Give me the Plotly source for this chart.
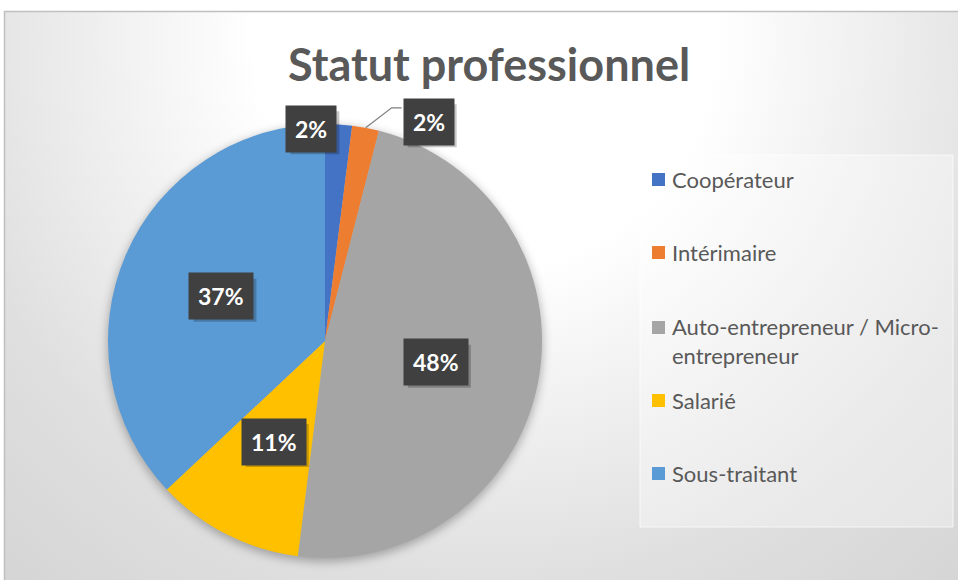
import base64
import math
import plotly.graph_objects as go

# ---- data ----
categories = ["Coopérateur", "Intérimaire", "Auto-entrepreneur / Micro-entrepreneur", "Salarié", "Sous-traitant"]
legend_labels = ["Coopérateur", "Intérimaire", "Auto-entrepreneur / Micro-<br>entrepreneur", "Salarié", "Sous-traitant"]
shares = [2, 2, 48, 11, 37]
colors = ["#4472C4", "#ED7D31", "#A5A5A5", "#FFC000", "#5B9BD5"]
title_text = "Statut professionnel"

# ---- geometry (pixels) ----
W, H = 958, 580
PIE_CX, PIE_CY, PIE_R = 325, 341, 217


def px(x):
    return x / W


def py(y):
    return 1 - y / H


# background: framed panel with a soft radial gradient and a shadow under the pie
svg = f"""<svg xmlns='http://www.w3.org/2000/svg' width='{W}' height='{H}' viewBox='0 0 {W} {H}' preserveAspectRatio='none'>
<defs>
<radialGradient id='bg' cx='485' cy='40' r='760' gradientUnits='userSpaceOnUse'>
<stop offset='0' stop-color='#ffffff'/>
<stop offset='0.30' stop-color='#ffffff'/>
<stop offset='0.63' stop-color='#e6e6e6'/>
<stop offset='0.72' stop-color='#dfdfdf'/>
<stop offset='1' stop-color='#d3d3d3'/>
</radialGradient>
<filter id='blur' x='-20%' y='-20%' width='140%' height='140%'><feGaussianBlur stdDeviation='5'/></filter>
</defs>
<rect x='0' y='0' width='{W}' height='{H}' fill='#ffffff'/>
<rect x='4.5' y='11.5' width='{W + 10}' height='{H + 10}' fill='url(#bg)' stroke='#bfbfbf' stroke-width='1.5'/>
<circle cx='{PIE_CX}' cy='{PIE_CY + 3}' r='{PIE_R + 1}' fill='#000000' fill-opacity='0.28' filter='url(#blur)'/>
</svg>"""
bg_uri = "data:image/svg+xml;base64," + base64.b64encode(svg.encode("utf-8")).decode("ascii")

fig = go.Figure()
fig.add_trace(go.Pie(
    labels=categories,
    values=shares,
    marker=dict(colors=colors, line=dict(width=0)),
    sort=False,
    direction="clockwise",
    rotation=0,
    textinfo="none",
    hoverinfo="label+percent",
    showlegend=False,
    domain=dict(
        x=[px(PIE_CX - PIE_R), px(PIE_CX + PIE_R)],
        y=[py(PIE_CY + PIE_R), py(PIE_CY - PIE_R)],
    ),
))

shapes = []
annotations = []

# data labels placed along each slice's mid-angle
total = sum(shares)
label_radius = [0.98, None, 0.52, 0.52, 0.52]
label_nudge = [(-27, 0), (0, 0), (0, 0), (0, 0), (0, 0)]
BOX_H = 41
cum = 0.0
for i, v in enumerate(shares):
    mid = math.radians((cum + v / 2) / total * 360)
    cum += v
    pct = f"{round(v / total * 100)}%"
    if label_radius[i] is None:
        # outside label with a leader line from the slice edge
        ex = PIE_CX + PIE_R * math.sin(mid)
        ey = PIE_CY - PIE_R * math.cos(mid)
        lx, ly = ex + 63, ey - 6
        shapes.append(dict(
            type="path", xref="paper", yref="paper",
            path=f"M {px(ex)} {py(ey)} L {px(lx - 37)} {py(ly - 14)} L {px(lx - 27)} {py(ly - 14)}",
            line=dict(color="#7f7f7f", width=1.2),
        ))
    else:
        f = label_radius[i]
        lx = PIE_CX + f * PIE_R * math.sin(mid) + label_nudge[i][0]
        ly = PIE_CY - f * PIE_R * math.cos(mid) + label_nudge[i][1]
    # soft drop shadow behind the label box
    bw = 14 * len(pct) + 20
    shapes.append(dict(
        type="rect", xref="paper", yref="paper",
        x0=px(lx - bw / 2 + 3), x1=px(lx + bw / 2 + 4),
        y0=py(ly + BOX_H / 2 + 5), y1=py(ly - BOX_H / 2 + 3),
        fillcolor="rgba(0,0,0,0.22)", line=dict(width=0),
    ))
    annotations.append(dict(
        x=px(lx), y=py(ly), xref="paper", yref="paper", showarrow=False,
        xanchor="center", yanchor="middle",
        text=f"<b>{pct}</b>", font=dict(family="Lato", size=23, color="#ffffff"),
        bgcolor="#404040", borderpad=9,
    ))

# legend panel
shapes.append(dict(
    type="rect", xref="paper", yref="paper", layer="below",
    x0=px(640), x1=px(953), y0=py(527), y1=py(155),
    fillcolor="rgba(255,255,255,0.35)", line=dict(color="rgba(255,255,255,0.7)", width=1),
))
LEG_FONT = 22
legend_y = [179, 252, 327, 400, 473]
for name, col, yy in zip(legend_labels, colors, legend_y):
    shapes.append(dict(
        type="rect", xref="paper", yref="paper",
        x0=px(652), x1=px(665), y0=py(yy + 7), y1=py(yy - 6),
        fillcolor=col, line=dict(width=0),
    ))
    n_lines = name.count("<br>") + 1
    cy = yy + (n_lines - 1) * 14
    annotations.append(dict(
        x=px(670), y=py(cy), xref="paper", yref="paper", showarrow=False,
        xanchor="left", yanchor="middle", align="left",
        text=name, font=dict(family="Lato", size=LEG_FONT, color="#595959"),
    ))

# title
annotations.append(dict(
    x=px(489), y=py(64), xref="paper", yref="paper", showarrow=False,
    xanchor="center", yanchor="middle",
    text=f"<b>{title_text}</b>", font=dict(family="Lato", size=45, color="#595959"),
))

fig.update_layout(
    width=W, height=H,
    margin=dict(l=0, r=0, t=0, b=0),
    paper_bgcolor="#ffffff",
    plot_bgcolor="rgba(0,0,0,0)",
    images=[dict(
        source=bg_uri, xref="paper", yref="paper", x=0, y=1, sizex=1, sizey=1,
        xanchor="left", yanchor="top", sizing="stretch", layer="below",
    )],
    shapes=shapes,
    annotations=annotations,
)

fig.write_html("out.html")
